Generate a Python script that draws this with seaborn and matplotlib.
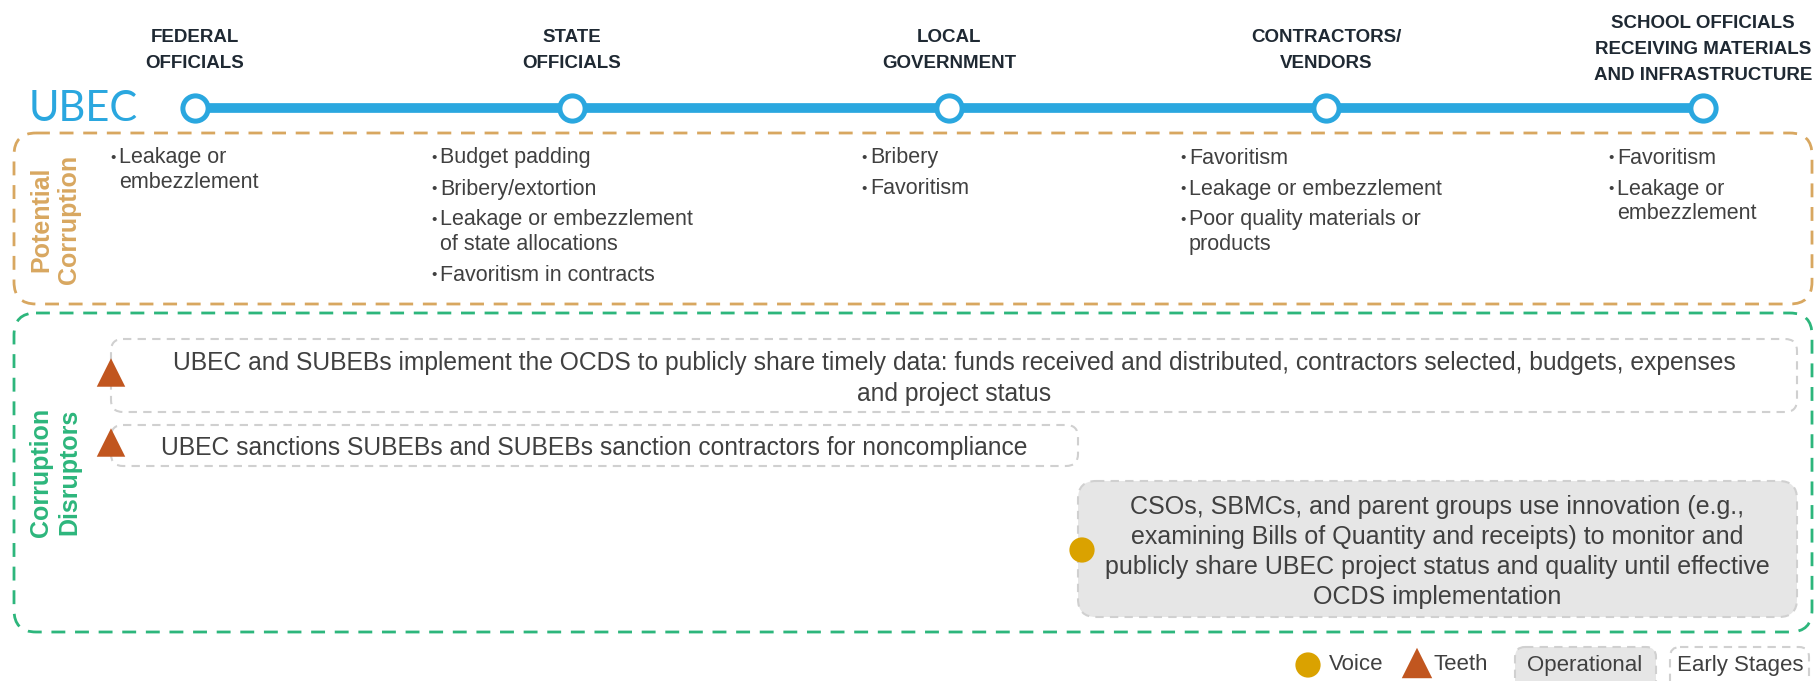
import numpy as np
import pandas as pd
import matplotlib
matplotlib.use("Agg")
import matplotlib.pyplot as plt
import seaborn as sns
from matplotlib.patches import FancyBboxPatch

sns.set_theme(style="white")
plt.rcParams["font.family"] = ["Liberation Sans", "DejaVu Sans"]

# ---- data ----
stages = ["FEDERAL\nOFFICIALS", "STATE\nOFFICIALS", "LOCAL\nGOVERNMENT",
          "CONTRACTORS/\nVENDORS",
          "SCHOOL OFFICIALS\nRECEIVING MATERIALS\nAND INFRASTRUCTURE"]
corruption = [
    ["Leakage or\nembezzlement"],
    ["Budget padding", "Bribery/extortion",
     "Leakage or embezzlement\nof state allocations", "Favoritism in contracts"],
    ["Bribery", "Favoritism"],
    ["Favoritism", "Leakage or embezzlement", "Poor quality materials or\nproducts"],
    ["Favoritism", "Leakage or\nembezzlement"],
]
disruptors = [
    "UBEC and SUBEBs implement the OCDS to publicly share timely data: funds received and distributed, contractors selected, budgets, expenses\nand project status",
    "UBEC sanctions SUBEBs and SUBEBs sanction contractors for noncompliance",
    "CSOs, SBMCs, and parent groups use innovation (e.g.,\nexamining Bills of Quantity and receipts) to monitor and\npublicly share UBEC project status and quality until effective\nOCDS implementation",
]
disruptor_type = ["Teeth", "Teeth", "Voice"]
disruptor_status = ["Early Stages", "Early Stages", "Operational"]
panel_labels = [("Potential", "Corruption"), ("Corruption", "Disruptors")]

# ---- style ----
BLUE = "#2AA7DF"
TAN = "#D8A760"
GREEN = "#2DB67C"
TEXT = "#404040"
HEAD = "#1F2933"
ORANGE = "#C1561F"
GOLD = "#DAA200"
GRAYFILL = "#E6E6E6"
GRAYLINE = "#D0D0D0"
marker_of = {"Teeth": "^", "Voice": "o"}
color_of = {"Teeth": ORANGE, "Voice": GOLD}

W, H = 1818, 681
fig = plt.figure(figsize=(W / 100, H / 100), dpi=100)
ax = fig.add_axes([0, 0, 1, 1])

# timeline
node_x0, node_step, line_y = 195, 377, 108
tl = pd.DataFrame({"stage": stages, "x": node_x0 + node_step * np.arange(len(stages)), "y": line_y})
sns.lineplot(data=tl, x="x", y="y", color=BLUE, linewidth=7, ax=ax, legend=False)
sns.scatterplot(data=tl, x="x", y="y", s=330, color="white", edgecolor=BLUE,
                linewidth=3.6, ax=ax, legend=False, zorder=5)
ax.set_xlim(0, W)
ax.set_ylim(H, 0)
ax.axis("off")

ax.text(29, line_y + 1, "UBEC", color=BLUE, fontsize=30, family=["Lato", "DejaVu Sans"],
        ha="left", va="center")

# stage headers, one text per line so spacing is exact
for x, name in zip(tl["x"], stages):
    lines = name.split("\n")
    y = 63.5 - 25.5 * (len(lines) - 1) + (11.5 if len(lines) == 3 else 0)
    for line in lines:
        ax.text(x, y, line, ha="center", va="center", fontsize=13.5,
                fontweight="bold", color=HEAD)
        y += 25.5


def rbox(x0, y0, x1, y1, ec, fc="none", lw=1.8, r=22, dash=(5, 3.5), z=1):
    p = FancyBboxPatch((x0, y0), x1 - x0, y1 - y0,
                       boxstyle=f"round,pad=0,rounding_size={r}",
                       ec=ec, fc=fc, lw=lw, linestyle=(0, dash), zorder=z)
    ax.add_patch(p)


def side_label(words, cy, color):
    for cx, word in zip([41, 69], words):
        ax.text(cx, cy, word, rotation=90, ha="center", va="center",
                fontsize=18, fontweight="bold", color=color)


# potential corruption panel
rbox(14, 133, 1812, 304, TAN, lw=2)
side_label(panel_labels[0], 219, TAN)

bullet_x = [110, 431, 861, 1180, 1608]
for bx, items in zip(bullet_x, corruption):
    y = 158
    for item in items:
        ax.text(bx, y, "•", ha="left", va="center", fontsize=11, color=TEXT)
        for line in item.split("\n"):
            ax.text(bx + 9, y, line, ha="left", va="center", fontsize=15.5, color=TEXT)
            y += 24.5
        y += 6.5

# corruption disruptors panel
rbox(14, 313, 1812, 632, GREEN, lw=2)
side_label(panel_labels[1], 472, GREEN)

box_xy = [(111, 339, 1797, 412), (111, 425, 1078, 466), (1078, 481, 1797, 617)]
box_fs = [17.7, 17.7, 18]
box_ls = [1.33, 1.33, 1.33]
rows = []
for (x0, y0, x1, y1), txt, typ, st, fs, ls in zip(box_xy, disruptors, disruptor_type,
                                                  disruptor_status, box_fs, box_ls):
    if st == "Operational":
        rbox(x0, y0, x1, y1, GRAYLINE, fc=GRAYFILL, lw=1.5, r=18, dash=(4, 3))
    else:
        rbox(x0, y0, x1, y1, GRAYLINE, lw=1.5, r=12, dash=(4, 3))
    ax.text((x0 + x1) / 2, (y0 + y1) / 2 + 3, txt,
            ha="center", va="center", fontsize=fs, color=TEXT, linespacing=ls, zorder=4)
    rows.append({"x": x0 + (4 if typ == "Voice" else 0),
                 "y": (y0 + y1) / 2 + (1 if typ == "Voice" else -3), "type": typ})

mk = pd.DataFrame(rows)
for typ, grp in mk.groupby("type"):
    sns.scatterplot(data=grp, x="x", y="y", marker=marker_of[typ],
                    s=420 if typ == "Teeth" else 330,
                    color=color_of[typ], edgecolor="none", ax=ax, legend=False, zorder=6)

# legend
leg_y = 665
leg = pd.DataFrame({"x": [1308, 1417], "y": [leg_y, leg_y - 2], "type": ["Voice", "Teeth"]})
for _, r in leg.iterrows():
    ax.scatter(r["x"], r["y"], marker=marker_of[r["type"]],
               s=330 if r["type"] == "Voice" else 480,
               color=color_of[r["type"]], edgecolor="none", zorder=6)
ax.text(1329, leg_y, "Voice", ha="left", va="center", fontsize=16, color=TEXT)
ax.text(1434, leg_y, "Teeth", ha="left", va="center", fontsize=16, color=TEXT)
rbox(1515, 647, 1656, 700, GRAYLINE, fc=GRAYFILL, lw=1.5, r=10, dash=(4, 3))
ax.text(1585, leg_y, "Operational", ha="center", va="center", fontsize=16, color=TEXT)
rbox(1670, 647, 1809, 700, GRAYLINE, lw=1.5, r=10, dash=(4, 3))
ax.text(1740, leg_y, "Early Stages", ha="center", va="center", fontsize=16, color=TEXT)

ax.set_xlim(0, W)
ax.set_ylim(H, 0)
fig.savefig("out.png", dpi=100)
